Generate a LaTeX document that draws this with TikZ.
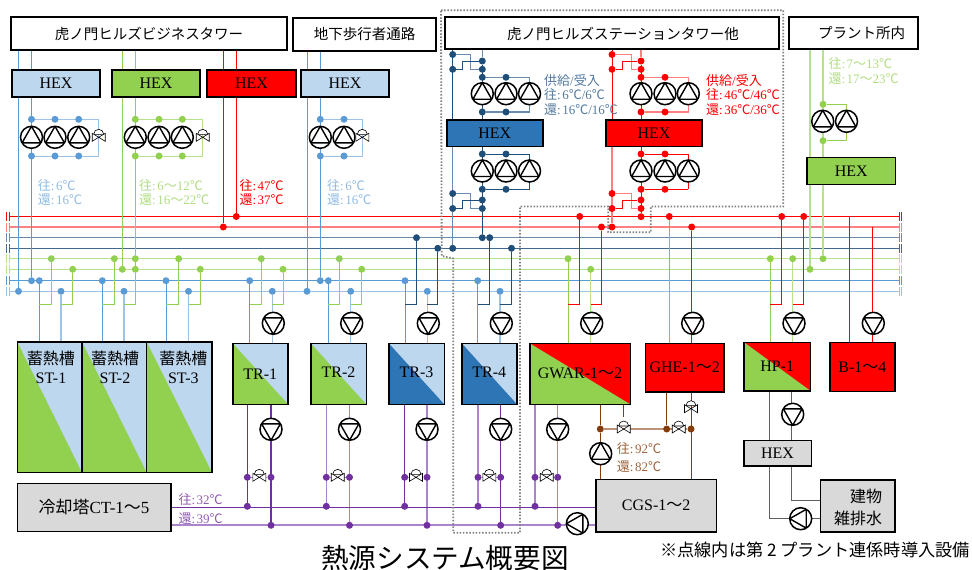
\documentclass[tikz,border=0pt]{standalone}
\usepackage{fontspec}
\setmainfont{Liberation Serif}
\newfontfamily\jp{Noto Sans CJK JP}
\usetikzlibrary{backgrounds}

\definecolor{lblue}{HTML}{BDD7EE}
\definecolor{dblue}{HTML}{2E75B6}
\definecolor{cblue}{HTML}{5B9BD5}
\definecolor{pblue}{HTML}{9DC3E6}
\definecolor{cgreen}{HTML}{92D050}
\definecolor{pgreen}{HTML}{B7E08F}
\definecolor{cred}{HTML}{FF0000}
\definecolor{pred}{HTML}{FF8080}
\definecolor{cnavy}{HTML}{1F4E79}
\definecolor{pnavy}{HTML}{6A8CAF}
\definecolor{cpurp}{HTML}{7030A0}
\definecolor{ppurp}{HTML}{AC84CC}
\definecolor{cbrown}{HTML}{843C0C}
\definecolor{pbrown}{HTML}{BB9478}
\definecolor{cgrey}{HTML}{606060}
\definecolor{lgrey}{HTML}{D9D9D9}

\newcommand{\ouro}{{\jp 往}:\kern1.5pt}
\newcommand{\kaeri}{{\jp 還}:\kern1.5pt}
\newcommand{\degc}{{\jp ℃}}
\newcommand{\nami}{{\jp 〜}}

\tikzset{
  box/.style={draw=black, line width=1.6pt, fill=#1, inner sep=0pt, align=center, font=\fontsize{16}{19}\selectfont},
  duobox/.style 2 args={box=#2, path picture={\fill[#1] (path picture bounding box.north west) -- (path picture bounding box.south west) -- (path picture bounding box.south east) -- cycle;}},
  topbox/.style={draw=black, line width=1.4pt, fill=white, inner sep=0pt},
  toptext/.style={inner sep=0pt, font=\fontsize{14.5}{17}\selectfont\jp},
  tag/.style={anchor=west, inner sep=0pt, text=#1, font=\fontsize{13}{15}\selectfont},
  pump/.style={circle, draw=black, fill=white, line width=1.5pt, inner sep=0pt, minimum size=22pt},
  pumpup/.style={pump, path picture={\draw[line width=1.4pt] (path picture bounding box.north) -- ++(-9.4pt,-16.5pt) -- ++(18.8pt,0pt) -- cycle;}},
  pumpdown/.style={pump, path picture={\draw[line width=1.4pt] (path picture bounding box.south) -- ++(-9.4pt,16.5pt) -- ++(18.8pt,0pt) -- cycle;}},
  pumpleft/.style={pump, path picture={\draw[line width=1.4pt] (path picture bounding box.west) -- ++(16.5pt,9.4pt) -- ++(0pt,-18.8pt) -- cycle;}},
  valve/.style={inner sep=0pt, minimum size=24pt, path picture={
    \begin{scope}[shift={(path picture bounding box.center)}, rotate=#1]
      \draw[line width=.6pt, fill=white] (-5pt,3pt) arc[start angle=180, end angle=0, radius=5pt] -- cycle;
      \draw[line width=.6pt, fill=white] (-6.5pt,-4pt) -- (6.5pt,4pt) -- (6.5pt,-4pt) -- (-6.5pt,4pt) -- cycle;
    \end{scope}}},
  dot/.style={circle, fill=#1, inner sep=0pt, minimum size=7pt},
  pipe/.style={draw=#1, line width=1pt},
  retpipe/.style={draw=#1, line width=1.4pt},
  dotframe/.style={draw=gray, line width=1.8pt, dash pattern=on 1.5pt off 1.7pt}
}

\begin{document}
\begin{tikzpicture}[x=1pt, y=-1pt]
  \useasboundingbox (0,0) rectangle (972,570);

  % top row
  \node[topbox, minimum width=276, minimum height=33, toptext] (biz) at (149,33.5) {虎ノ門ヒルズビジネスタワー};
  \node[topbox, minimum width=143, minimum height=33, toptext] (pas) at (364.5,34.5) {地下歩行者通路};
  \node[topbox, minimum width=334, minimum height=32] (stn) at (612,33) {};
  \node[toptext] (stntext) at (623,33.5) {虎ノ門ヒルズステーションタワー他};
  \node[topbox, minimum width=129, minimum height=32] (plant) at (853.5,33) {};
  \node[toptext] (planttext) at (861.5,33.5) {プラント所内};

  % HEX
  \node[box=lblue, minimum width=88, minimum height=27] (hexa) at (56,83.5) {HEX};
  \node[box=cgreen, minimum width=88, minimum height=27] (hexg) at (156,83.5) {HEX};
  \node[box=cred, minimum width=89, minimum height=27] (hexr) at (251.5,83.5) {HEX};
  \node[box=lblue, minimum width=88, minimum height=27] (hexp) at (345,83.5) {HEX};
  \node[box=dblue, minimum width=96, minimum height=26.6] (hexn) at (494.7,133) {HEX};
  \node[box=cred, minimum width=96, minimum height=26.6] (hexs) at (654,133) {HEX};
  \node[box=cgreen, minimum width=88.3, minimum height=27] (hexq) at (851.2,170.8) {HEX};
  \node[box=lgrey, minimum width=67.6, minimum height=25.4] (hexh) at (777.5,453) {HEX};

  % machines
  \node[duobox={cgreen}{lblue}, line width=1.1pt, minimum width=64.7, minimum height=130.7] (st1) at (49.65,407.35) {};
  \node[duobox={cgreen}{lblue}, line width=1.1pt, minimum width=64.7, minimum height=130.7] (st2) at (114.35,407.35) {};
  \node[duobox={cgreen}{lblue}, line width=1.1pt, minimum width=65.3, minimum height=130.7] (st3) at (179.35,407.35) {};
  \node[inner sep=0pt, align=center, font=\fontsize{16}{19.4}\selectfont] (st1text) at (51,367.5) {{\jp 蓄熱槽}\\ST-1};
  \node[inner sep=0pt, align=center, font=\fontsize{16}{19.4}\selectfont] (st2text) at (115,367.5) {{\jp 蓄熱槽}\\ST-2};
  \node[inner sep=0pt, align=center, font=\fontsize{16}{19.4}\selectfont] (st3text) at (183.3,367.5) {{\jp 蓄熱槽}\\ST-3};
  \node[box=lgrey, minimum width=153.4, minimum height=48, font=\fontsize{17}{19}\selectfont] (ct) at (94,507.3) {\raisebox{-3pt}{{\jp 冷却塔}CT-1\nami 5}};
  \node[duobox={cgreen}{lblue}, minimum width=55.3, minimum height=61] (tr1) at (260.35,373.8) {TR-1};
  \node[duobox={cgreen}{lblue}, minimum width=55.6, minimum height=61] (tr2) at (338.5,373.8) {\raisebox{3pt}{TR-2}};
  \node[duobox={dblue}{lblue}, minimum width=55.6, minimum height=61] (tr3) at (416.5,373.8) {\raisebox{3pt}{TR-3}};
  \node[duobox={dblue}{lblue}, minimum width=55.3, minimum height=61] (tr4) at (489.35,373.8) {\raisebox{3pt}{TR-4}};
  \node[duobox={cgreen}{cred}, minimum width=100.6, minimum height=61] (gwar) at (580,373.8) {GWAR-1\nami 2};
  \node[box=cred, minimum width=78.7, minimum height=48.4] (ghe) at (684.65,367.5) {GHE-1\nami 2};
  \node[duobox={cgreen}{cred}, minimum width=66.3, minimum height=48.4] (hp) at (777.15,366.5) {HP-1};
  \node[box=cred, minimum width=64.7, minimum height=49] (boiler) at (862.35,366.8) {B-1\nami 4};
  \node[box=lgrey, minimum width=74.7, minimum height=52] (drain) at (857.65,505.7) {};
  \node[inner sep=0pt, font=\fontsize{16}{19}\selectfont\jp] (draintext) at (866,496.7) {建物};
  \node[inner sep=0pt, font=\fontsize{16}{19}\selectfont\jp] (draintexb) at (858,518) {雑排水};
  \node[box=lgrey, minimum width=120.3, minimum height=52.4] (cgs) at (656.15,505.5) {CGS-1\nami 2};

  % headers
  \foreach \h/\y/\k/\w in {1/216.5/cred/.9, 2/227/pred/1.6, 3/237.7/pnavy/1.3, 4/248.3/cnavy!85/1, 5/258.7/pgreen/1.4, 6/269.3/pgreen/1.4, 7/280.7/cblue/1, 8/291.3/pblue/1.4} {
    \coordinate (hl\h) at (9,\y);
    \coordinate (hr\h) at (899,\y);
    \begin{pgfonlayer}{background}
      \draw[draw=\k, line width=\w pt] (hl\h) -- (hr\h);
    \end{pgfonlayer}
    \draw[draw=\k, line width=1pt] ([yshift=-4.5pt]hl\h) -- ([yshift=4.5pt]hl\h);
    \draw[draw=\k, line width=1pt] ([yshift=-4.5pt, xshift=-2.5pt]hl\h) -- ([yshift=4.5pt, xshift=-2.5pt]hl\h);
    \draw[draw=\k, line width=1pt] ([yshift=-4.5pt]hr\h) -- ([yshift=4.5pt]hr\h);
    \draw[draw=\k, line width=1pt] ([yshift=-4.5pt, xshift=2.5pt]hr\h) -- ([yshift=4.5pt, xshift=2.5pt]hr\h);
  }

  % drops from the headers into the machines
  \foreach \u/\a/\b/\c/\d/\pa/\pb/\pc/\pd/\ka/\kb in {
      st1/39.3/51.3/61/72.7/280.7/258.7/291.3/269.3/blue/green,
      st2/102.3/114.3/124/135.3/280.7/258.7/291.3/269.3/blue/green,
      st3/166/178.7/188.5/200.3/280.7/258.7/291.3/269.3/blue/green,
      tr1/249.7/261.3/272.3/283/280.7/258.7/291.3/269.3/blue/green,
      tr2/328.3/339.3/350.7/361.7/280.7/258.7/291.3/269.3/blue/green,
      tr3/405/416.5/427.3/437.8/280.7/237.7/291.3/248.3/blue/navy,
      tr4/477.7/489.7/500/511.5/280.7/237.7/291.3/248.3/blue/navy,
      gwar/568/579.7/590.7/601.5/258.7/216.5/269.3/227/green/red,
      hp/770.3/781.7/792.7/803.7/258.7/216.5/258.7/216.5/green/red} {
    \node[dot=c\ka] (\u-a) at (\a,\pa) {};
    \node[dot=c\kb] (\u-b) at (\b,\pb) {};
    \node[dot=c\ka] (\u-c) at (\c,\pc) {};
    \node[dot=c\kb] (\u-d) at (\d,\pd) {};
    \coordinate (\u-e) at (\a,304.3);
    \coordinate (\u-f) at (\c,304.3);
    \begin{pgfonlayer}{background}
      \draw[pipe=c\ka] (\u-a) -- (\u-a |- \u.north);
      \draw[retpipe=p\ka] (\u-c) -- (\u-c |- \u.north);
      \draw[pipe=c\kb] (\u-b) |- (\u-e);
      \draw[pipe=c\kb] (\u-d) |- (\u-f);
    \end{pgfonlayer}
  }

  % condenser side
  \coordinate (pa) at (168,507.5);
  \coordinate (pb) at (596,507.5);
  \coordinate (pc) at (170,525);
  \coordinate (pd) at (596,525);
  \foreach \u/\l/\r/\v/\t/\kl/\kr in {
      tr1/247.3/271/259.3/273.3/cpurp/cpurp,
      tr2/326.3/349.5/337.7/351.7/ppurp/ppurp,
      tr3/404.7/427/416/428.3/cpurp/ppurp,
      tr4/478/500.7/489.3/501.3/ppurp/cpurp,
      gwar/535/557.7/546.7/591.7/ppurp/ppurp} {
    \node[dot=cpurp] (\u-h) at (\l,477.3) {};
    \node[dot=cpurp] (\u-i) at (\r,477.3) {};
    \node[dot=cpurp] (\u-j) at (\l,506.3) {};
    \node[dot=cpurp] (\u-k) at (\r,525.3) {};
    \node[valve=0] (\u-v) at (\v,477.3) {};
    \node[pumpdown] (\u-up) at (\t,323.3) {};
    \node[pumpdown] (\u-lo) at (\r,429.3) {};
    \begin{pgfonlayer}{background}
      \draw[pipe=\kl, line width=1.2pt] (\u-j) -- (\u-j |- \u.south);
      \draw[pipe=\kr, line width=1.2pt] (\u-k) -- (\u-k |- \u.south);
      \draw[pipe=ppurp] (\u-h) -- (\u-i);
    \end{pgfonlayer}
  }
  \node[pumpdown] (gheup) at (692.7,323.3) {};
  \node[pumpdown] (hpup) at (794,323.3) {};
  \node[pumpdown] (boilerup) at (873.3,323.3) {};
  \node[pumpdown] (hplo) at (792.7,414.3) {};
  \node[pumpleft] (cwp) at (577.3,523.7) {};
  \node[pumpleft] (gp) at (800.7,518.7) {};
  \node[pumpup] (brp) at (600.7,453.7) {};

  % building pump sets
  \foreach \g/\k/\p/\l/\m/\n/\r in {a/cblue/pblue/31.5/55/78.7/98.7, g/cgreen/pgreen/135.3/159/182.3/202.7} {
    \node[dot=\k] (\g t1) at (\l,119.3) {};
    \node[dot=\k] (\g t2) at (\m,119.3) {};
    \node[dot=\k] (\g t3) at (\n,119.3) {};
    \node[dot=\k] (\g b1) at (\l,156) {};
    \node[dot=\k] (\g b2) at (\m,156) {};
    \node[dot=\k] (\g b3) at (\n,156) {};
    \node[pumpup] (\g p1) at (\l,137.3) {};
    \node[pumpup] (\g p2) at (\m,137.3) {};
    \node[pumpup] (\g p3) at (\n,137.3) {};
    \node[valve=-90] (\g v) at (\r,137.3) {};
    \begin{pgfonlayer}{background}
      \draw[pipe=\p] (\g t1) -| (\g v.center) |- (\g b1);
    \end{pgfonlayer}
  }
  \node[dot=cblue] (dt1) at (320.3,119.3) {};
  \node[dot=cblue] (dt2) at (344,119.3) {};
  \node[dot=cblue] (db1) at (320.3,156) {};
  \node[dot=cblue] (db2) at (344,156) {};
  \node[pumpup] (dp1) at (320.3,137.3) {};
  \node[pumpup] (dp2) at (344,137.3) {};
  \node[valve=-90] (dv) at (362.3,137.3) {};

  % building risers
  \node[dot=cblue] (ah1) at (18.5,291.3) {};
  \node[dot=cblue] (ah2) at (31.5,280.7) {};
  \node[dot=cgreen] (gh1) at (122.3,269.3) {};
  \node[dot=cgreen] (gh2) at (135.3,258.7) {};
  \node[dot=cred] (rh1) at (223.3,227) {};
  \node[dot=cred] (rh2) at (236.3,216.5) {};
  \node[dot=cblue] (dh1) at (307,291.3) {};
  \node[dot=cblue] (dh2) at (320.3,280.7) {};

  % station tower pump sets
  \foreach \g/\k/\p/\l/\r/\m/\n/\e/\f/\y/\z in {n/cnavy/pnavy/452.7/482.3/506/529.5/470.7/462.3/248.3/237.7, s/cred/pred/612/641/665/688.3/631.7/622/227/216.7} {
    \node[dot=\k] (\g u1) at (\l,54.5) {};
    \node[dot=\k] (\g u2) at (\l,69.3) {};
    \node[dot=\k] (\g u3) at (\r,61) {};
    \node[dot=\k] (\g u4) at (\r,69.3) {};
    \node[dot=\k] (\g u5) at (\r,77.3) {};
    \node[dot=\k] (\g u6) at (\m,77.3) {};
    \node[dot=\k] (\g u7) at (\r,112) {};
    \node[dot=\k] (\g u8) at (\m,112) {};
    \node[dot=\k] (\g d1) at (\r,154) {};
    \node[dot=\k] (\g d2) at (\m,154) {};
    \node[dot=\k] (\g d3) at (\r,189.3) {};
    \node[dot=\k] (\g d4) at (\m,189.3) {};
    \node[dot=\k] (\g d5) at (\l,193.5) {};
    \node[dot=\k] (\g d6) at (\l,208.5) {};
    \node[dot=\k] (\g d7) at (\r,200) {};
    \node[dot=\k] (\g d8) at (\r,208.5) {};
    \node[dot=\k] (\g h1) at (\l,\y) {};
    \node[dot=\k] (\g h2) at (\r,\z) {};
    \node[pumpup] (\g p1) at (\r,93.7) {};
    \node[pumpup] (\g p2) at (\m,93.7) {};
    \node[pumpup] (\g p3) at (\n,93.7) {};
    \node[pumpup] (\g q1) at (\r,171) {};
    \node[pumpup] (\g q2) at (\m,171) {};
    \node[pumpup] (\g q3) at (\n,171) {};
    \coordinate (\g a) at (\e,69.3);
    \coordinate (\g b) at (\f,61);
    \coordinate (\g c) at (\e,208.5);
    \coordinate (\g e) at (\f,200);
    \coordinate (\g s) at (\n,112);
    \coordinate (\g w) at (\n,154);
    \coordinate (\g x) at (\n,189.3);
    \begin{pgfonlayer}{background}
      \draw[pipe=\k] (\g u1) -- (\g u1 |- stn.south);
      \draw[retpipe=\p] (\g u3) -- (\g u3 |- stn.south);
      \draw[pipe=\k] (\g u1) -- (\g u1 |- hexn.north);
      \draw[retpipe=\p] (\g u1 |- hexn.south) -- (\g h1);
      \draw[pipe=\k] (\g u3) -- (\g u3 |- hexn.north);
      \draw[pipe=\k] (\g u3 |- hexn.south) -- (\g h2);
      \draw[retpipe=\p] (\g u1) -| (\g a) -- (\g u4);
      \draw[pipe=\k] (\g u2) -| (\g b) -- (\g u3);
      \draw[retpipe=\p] (\g d5) -| (\g c) -- (\g d8);
      \draw[pipe=\k] (\g d6) -| (\g e) -- (\g d7);
      \draw[retpipe=\p] (\g u5) -| (\g s) -- (\g u7);
      \draw[pipe=\k] (\g d1) -- (\g w);
      \draw[pipe=\k] (\g d3) -- (\g x);
      \draw[pipe=\k] (\g w) -- (\g x);
    \end{pgfonlayer}
  }

  % plant room
  \node[dot=cgreen] (q1) at (810,269.3) {};
  \node[dot=cgreen] (q2) at (823,258.7) {};
  \node[dot=cgreen] (q3) at (823,104.3) {};
  \node[dot=cgreen] (q4) at (823,140.7) {};
  \node[pumpup] (qp1) at (822.7,121.3) {};
  \node[pumpup] (qp2) at (846.5,121.3) {};
  \coordinate (qc) at (846.7,140.7);

  % ghe and boiler
  \node[dot=cred] (ghe-a) at (669.3,216.5) {};
  \node[dot=cred] (ghe-b) at (691.7,227) {};
  \coordinate (bo-a) at (849.3,216.5);
  \coordinate (bo-b) at (872.3,227);

  % brown loop
  \node[dot=cbrown] (bra) at (600.3,429) {};
  \node[dot=cbrown] (brb) at (666.7,429) {};
  \node[dot=cbrown] (brc) at (691,429) {};
  \node[valve=180] (brv1) at (623.7,429) {};
  \node[valve=0] (brv2) at (678.7,429) {};
  \node[valve=-90] (brv3) at (691,408.7) {};

  % grey loop
  \coordinate (gr1) at (769,518.7);
  \coordinate (gr2) at (791.7,500.3);

  \begin{pgfonlayer}{background}
    \draw[pipe=cblue] (ah1) -- (ah1 |- biz.south);
    \draw[pipe=cblue] (ah2) -- (ah2 |- biz.south);
    \draw[pipe=cgreen] (gh1) -- (gh1 |- biz.south);
    \draw[pipe=cgreen] (gh2) -- (gh2 |- biz.south);
    \draw[pipe=cgreen] (gh2) -- (st2-d);
    \draw[pipe=cred] (rh1) -- (rh1 |- biz.south);
    \draw[pipe=cred] (rh2) -- (rh2 |- biz.south);
    \draw[pipe=cblue] (dh1) -- (dh1 |- pas.south);
    \draw[pipe=cblue] (dh2) -- (dh2 |- pas.south);
    \draw[pipe=pblue] (dt1) -| (dv.center) |- (db1);
    \draw[retpipe=pgreen] (q1) -- (q1 |- plant.south);
    \draw[retpipe=pgreen] (q2) -- (q2 |- plant.south);
    \draw[pipe=cgreen] (q3) -| (qc) -- (q4);
    \draw[retpipe=pred] (ghe-a) -- (ghe-a |- ghe.north);
    \draw[pipe=cred] (ghe-b) -- (ghe-b |- ghe.north);
    \draw[pipe=cred] (bo-a) -- (bo-a |- boiler.north);
    \draw[pipe=cred] (bo-b) -- (bo-b |- boiler.north);
    \draw[pipe=cpurp] (pa) -- (pb);
    \draw[retpipe=ppurp] (pc) -- (pd);
    \draw[pipe=cbrown] (bra) -- (bra |- gwar.south);
    \draw[pipe=cbrown] (bra) -- (bra |- cgs.north);
    \draw[retpipe=pbrown] (bra) -- (brc);
    \draw[pipe=cbrown] (brv1) -- (brv1 |- gwar.south);
    \draw[pipe=cbrown] (brb) -- (brb |- ghe.south);
    \draw[pipe=cbrown] (brc |- ghe.south) -- (brc |- cgs.north);
    \draw[pipe=cgrey] (gr1 |- hp.south) -- (gr1 |- hexh.north);
    \draw[pipe=cgrey] (gr2 |- hp.south) -- (gr2 |- hexh.north);
    \draw[pipe=cgrey] (gr1 |- hexh.south) -- (gr1) -- (gr1 -| drain.west);
    \draw[pipe=cgrey] (gr2 |- hexh.south) -- (gr2) -- (gr2 -| drain.west);
  \end{pgfonlayer}

  % dotted area
  \draw[dotframe] (441,10.3) -- (783.3,10.3) -- (783.3,206.5) -- (650.7,206.5) -- (650.7,232.3) -- (608.3,232.3) -- (608.3,206.5) -- (520,206.5) -- (520,532.7) -- (453.3,532.7) -- (453.3,258.5) -- (441.7,256) -- cycle;

  % temperatures
  \node[tag=pblue!80!cblue] (ta1) at (37.7,185.3) {\ouro 6\degc};
  \node[tag=pblue!80!cblue] (ta2) at (37.7,200) {\kaeri 16\degc};
  \node[tag=pgreen!80!cgreen] (tg1) at (139,185.3) {\ouro 6\nami 12\degc};
  \node[tag=pgreen!80!cgreen] (tg2) at (139,200) {\kaeri 16\nami 22\degc};
  \node[tag=cred] (tr1t) at (239.3,185.3) {\ouro 47\degc};
  \node[tag=cred] (tr2t) at (239.3,200) {\kaeri 37\degc};
  \node[tag=pblue!80!cblue] (td1) at (327,185.3) {\ouro 6\degc};
  \node[tag=pblue!80!cblue] (td2) at (327,200) {\kaeri 16\degc};
  \node[tag=pnavy!70!cnavy] (tn0) at (544,80.7) {{\jp 供給}/{\jp 受入}};
  \node[tag=pnavy!70!cnavy] (tn1) at (544,95) {\ouro 6\degc/6\degc};
  \node[tag=pnavy!70!cnavy] (tn2) at (544,110) {\kaeri 16\degc/16\degc};
  \node[tag=cred] (ts0) at (706,80.7) {{\jp 供給}/{\jp 受入}};
  \node[tag=cred] (ts1) at (706,95) {\ouro 46\degc/46\degc};
  \node[tag=cred] (ts2) at (706,110) {\kaeri 36\degc/36\degc};
  \node[tag=pgreen!80!cgreen] (tq1) at (828.3,63.3) {\ouro 7\nami 13\degc};
  \node[tag=pgreen!80!cgreen] (tq2) at (828.3,78.7) {\kaeri 17\nami 23\degc};
  \node[tag=cpurp!80] (tc1) at (178.3,500) {\ouro 32\degc};
  \node[tag=cpurp!80] (tc2) at (178.3,518.7) {\kaeri 39\degc};
  \node[tag=cbrown!80] (tb1) at (616.7,449) {\ouro 92\degc};
  \node[tag=cbrown!80] (tb2) at (616.7,467) {\kaeri 82\degc};

  \node[inner sep=0pt, font=\fontsize{27.6}{30}\selectfont\jp] (title) at (445,558) {熱源システム概要図};
  \node[inner sep=0pt, anchor=west, font=\fontsize{17.2}{20}\selectfont\jp] (note) at (660,550) {※点線内は第 2 プラント連係時導入設備};
\end{tikzpicture}
\end{document}
